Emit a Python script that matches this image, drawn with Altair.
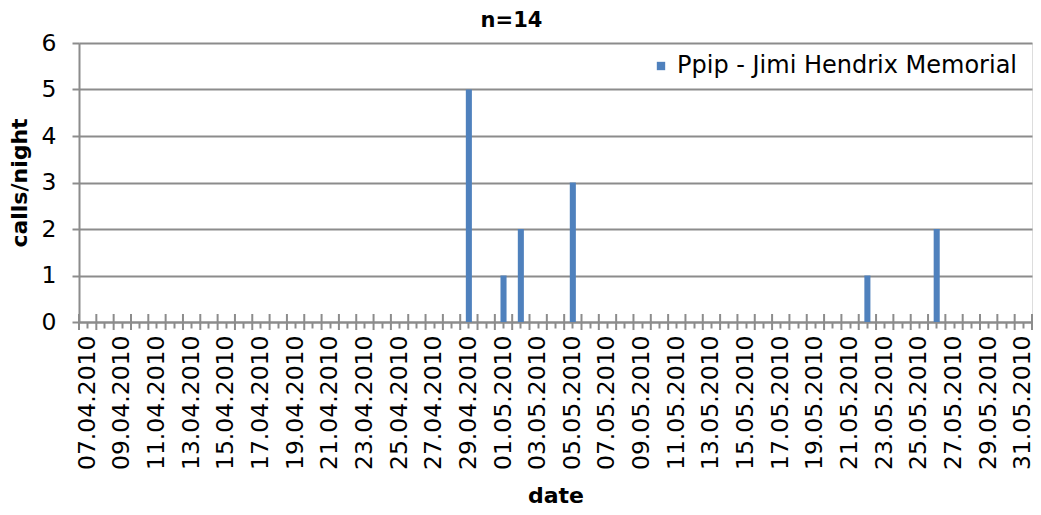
import altair as alt
import pandas as pd

# Categories: every night from 07.04.2010 to 31.05.2010
april_days = list(range(7, 31))
may_days = list(range(1, 32))
categories = [f"{d:02d}.04.2010" for d in april_days] + [f"{d:02d}.05.2010" for d in may_days]

# Nights with calls (all other nights: 0)
call_dates = ["29.04.2010", "01.05.2010", "02.05.2010", "05.05.2010", "22.05.2010", "26.05.2010"]
call_counts = [5, 1, 2, 3, 1, 2]
series_name = "Ppip - Jimi Hendrix Memorial"

counts = dict(zip(call_dates, call_counts))
df = pd.DataFrame({
    "date": categories,
    "calls": [counts.get(c, 0) for c in categories],
    "series": series_name,
})

W, H = 953, 279
FONT = "DejaVu Sans"
GRAY = "#8c8c8c"
BLUE = "#4f81bd"

x_axis = alt.Axis(
    title="date",
    labelExpr="toNumber(substring(datum.value,0,2)) % 2 == 1 ? datum.value : ''",
    labelAngle=-90, labelAlign="right", labelBaseline="middle",
    labelFontSize=23.5, labelFont=FONT, labelColor="black", labelPadding=7,
    labelOverlap=False,
    tickSize=6, tickColor=GRAY, tickWidth=2,
    domainColor=GRAY, domainWidth=2,
    titleFont=FONT, titleFontSize=22, titleFontWeight="bold", titleColor="black",
    titlePadding=16, grid=False,
)

y_axis = alt.Axis(
    title="calls/night", values=[0, 1, 2, 3, 4, 5, 6],
    labelFontSize=23.5, labelFont=FONT, labelColor="black", labelPadding=16,
    tickSize=7, tickColor=GRAY, tickWidth=2,
    domainColor=GRAY, domainWidth=2,
    grid=True, gridColor=GRAY, gridWidth=2,
    titleFont=FONT, titleFontSize=22, titleFontWeight="bold", titleColor="black",
    titlePadding=10,
)

xscale = alt.Scale(domain=categories, paddingInner=0, paddingOuter=0)

bars = alt.Chart(df).mark_bar(width=alt.RelativeBandSize(0.35), color=BLUE).encode(
    x=alt.X("date:O", scale=xscale, axis=x_axis, sort=categories),
    y=alt.Y("calls:Q", scale=alt.Scale(domain=[0, 6], nice=False), axis=y_axis),
    color=alt.Color("series:N", scale=alt.Scale(range=[BLUE]), legend=alt.Legend(
        title=None, orient="none", legendX=570, legendY=11, padding=0,
        symbolType="square", symbolSize=70, symbolStrokeWidth=0,
        labelFont=FONT, labelFontSize=24, labelColor="black", labelOffset=4,
        labelLimit=600,
    )),
)

major_ticks = alt.Chart(df).mark_rule(color=GRAY, strokeWidth=2).encode(
    x=alt.X("date:O", scale=xscale, sort=categories, bandPosition=0),
    y=alt.value(H - 8),
    y2=alt.value(H + 8),
)

last_tick = alt.Chart(df.tail(1)).mark_rule(color=GRAY, strokeWidth=2).encode(
    x=alt.X("date:O", scale=xscale, sort=categories, bandPosition=1),
    y=alt.value(H - 8),
    y2=alt.value(H + 8),
)

chart = alt.layer(bars, major_ticks, last_tick).properties(
    width=W, height=H,
    title=alt.TitleParams("n=14", font=FONT, fontSize=21, fontWeight="bold",
                          color="black", anchor="middle", dx=-44, offset=0),
    autosize=alt.AutoSizeParams(type="none"),
    padding={"left": 71, "top": 35, "right": 1, "bottom": 185},
).configure_view(stroke=None).configure(background="white")

chart.save("out.html", embed_options={"renderer": "svg", "actions": False})
